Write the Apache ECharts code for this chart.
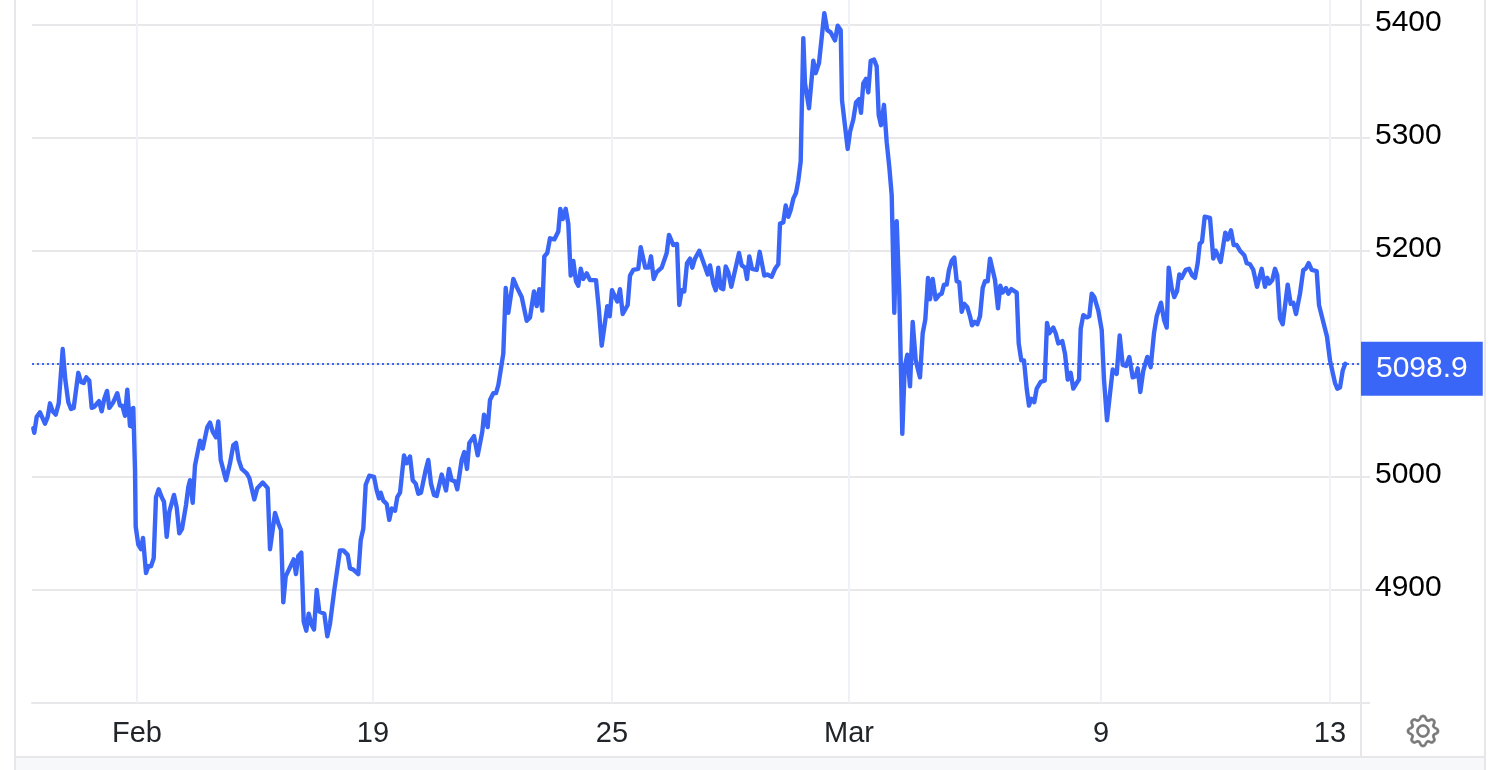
<!DOCTYPE html>
<html><head><meta charset="utf-8">
<style>html,body{margin:0;padding:0;background:#fff;overflow:hidden}#c{width:1506px;height:770px}</style>
<script src="https://cdn.jsdelivr.net/npm/echarts@6/dist/echarts.min.js"></script>
</head><body><div id="c"></div>
<script>
const timeIndex=[0.3,1.3,3.7,7,9,12,14.7,17,19.7,22.7,25.7,29.7,32.3,35.3,38,40.7,45.3,48,50.7,53.3,56.3,58.7,61.3,66,68.7,71.3,74,76.3,80.3,84.3,87,89.3,92,94.3,97,98.7,99.7,100.3,102,102.7,105.3,108,110,113,115.3,118,120.7,123,125.7,128.7,131,133.7,136.3,141,143.7,146.3,149,153,155.3,157,159.7,162,167,169.7,174.3,177,179.7,183,185.3,187.7,193,197,200.3,203,205.7,208.7,213.7,216.3,221.3,224.3,229.7,234.7,237,242,245.3,248,250.3,252.7,260.7,263,265.3,268.3,270.7,273.3,275.7,278.7,281,283.7,286.3,291.3,294.3,297,301.3,307,310.3,314.7,317,320.3,325.3,327.7,330.3,332.7,336.3,341,343.7,346,347.7,350.3,353.7,356.3,358.7,362,364.3,367,371,373.7,377,379.7,382.7,385.3,388,392.7,395.3,398,401,403.7,408.7,413,416,418.7,422,424.3,428.7,431.3,434,436.3,441,444.7,449.3,451,454.7,457,460.3,463,465.3,470.3,472.7,475.3,480.3,483.7,488.7,493.7,497,501,503.7,506.3,509.3,511.3,514.3,517,521.3,525.3,527.3,529.7,532.7,535.3,537.7,540.3,543,545.3,547.7,550.3,553.7,557,563,565.7,568.7,574.3,576.7,579,584.3,587,589.7,594.7,597,600.3,605.3,607.7,612.3,615.7,618,620.7,623.7,628.7,633.7,636,640.3,644,646.3,648.7,651.3,654,657,659.3,662,666.3,670.3,674.7,677,680.3,682.7,685.3,687.7,690.3,692.7,695.3,698.3,706,708.7,712,714,716.3,719,723.7,726.7,731.3,734.3,738.7,742,745.3,747,750.3,752.7,755.3,757.7,760.3,763,765.3,767.7,770.3,772,776,780.3,782.7,786,791.3,794.3,797.7,802,804.7,807.7,809,814.7,817,820.3,823,826,828,830.3,833,835.3,837.7,841,843.7,845.7,848,851,853.7,856.3,858.7,861.3,863.7,866.3,869.3,871.7,874.3,877,879.7,882.7,887,889.7,892.3,895,897,899.7,902.7,906.3,908.7,911,913.7,916,918.7,921.3,923.7,926.3,928.7,931.3,934.3,937,939,941.7,944.3,947,949.7,952,954.7,957,962,965,967.3,969.7,973,975.3,978.3,983.7,985.7,988.3,991,993.7,996,998.3,1001.3,1003.7,1007.7,1011.7,1014,1016.3,1020.3,1022.7,1025.3,1029.3,1032,1034.7,1037.7,1040.3,1043.7,1046,1047.7,1050.3,1053.7,1056.3,1058.7,1061.3,1065.3,1068.7,1071,1074,1076.3,1079.7,1083.7,1086.7,1089.7,1093,1096.3,1099.7,1102.7,1104.7,1107.3,1110.3,1114.3,1117.7,1121,1123.7,1125.7,1128,1131,1133.7,1135.7,1138.7,1141.3,1144,1146.3,1148.7,1152.7,1156,1159.3,1162,1164.7,1166.7,1169,1171.7,1177,1180.3,1182.7,1187.7,1192.3,1194.7,1198,1200.7,1203.7,1207,1211.3,1213.7,1217,1220.3,1224,1228.7,1232,1234.3,1236.3,1239.3,1242,1244.3,1247,1249.7,1254.7,1257.7,1260.3,1263,1267,1270.3,1272.7,1275.7,1278.7,1283.7,1286,1289.7,1294,1297,1302,1304.3,1307,1309.7,1312.3];
const prices=[5043,5039,5053,5057,5056,5047,5053,5065,5058,5055,5065,5113,5086,5066,5060,5061,5092,5084,5083,5088,5085,5061,5062,5067,5058,5069,5076,5061,5066,5074,5063,5063,5054,5077,5045,5060,5044,5061,5006,4956,4940,4936,4946,4915,4921,4921,4928,4982,4989,4982,4978,4947,4969,4984,4973,4950,4954,4975,4991,4997,4977,5010,5032,5025,5044,5048,5040,5035,5049,5015,4997,5012,5028,5030,5015,5007,5003,4999,4980,4990,4995,4990,4936,4968,4959,4953,4889,4912,4927,4914,4930,4933,4872,4864,4879,4869,4865,4900,4881,4879,4859,4870,4900,4935,4935,4931,4919,4918,4914,4944,4954,4993,5001,5000,4988,4981,4986,4979,4976,4962,4972,4970,4982,4986,5019,5012,5018,4997,4994,4985,4986,5006,5015,4994,4984,4983,5002,4988,5007,4997,4996,4989,5015,5022,5007,5030,5036,5019,5040,5055,5044,5068,5074,5074,5081,5109,5167,5145,5175,5168,5159,5138,5141,5164,5151,5166,5147,5195,5198,5211,5210,5217,5237,5228,5237,5224,5178,5191,5173,5169,5184,5175,5180,5174,5174,5150,5116,5151,5142,5165,5155,5166,5144,5152,5178,5183,5184,5203,5185,5185,5195,5175,5181,5185,5198,5214,5205,5206,5152,5165,5164,5189,5193,5185,5193,5200,5190,5179,5187,5171,5165,5185,5167,5166,5186,5181,5168,5198,5187,5185,5175,5195,5184,5183,5199,5178,5179,5177,5184,5188,5224,5225,5240,5230,5236,5246,5251,5262,5279,5388,5348,5326,5368,5357,5366,5410,5395,5393,5386,5399,5395,5333,5290,5305,5316,5331,5334,5322,5348,5352,5340,5368,5369,5363,5320,5311,5329,5296,5274,5249,5145,5226,5162,5038,5097,5108,5080,5137,5103,5088,5127,5139,5176,5157,5175,5157,5161,5162,5170,5170,5183,5191,5194,5173,5172,5146,5153,5150,5142,5134,5137,5135,5142,5167,5173,5173,5193,5174,5149,5169,5163,5167,5162,5166,5163,5118,5103,5103,5078,5063,5069,5066,5078,5084,5085,5136,5127,5132,5127,5118,5120,5109,5086,5092,5078,5083,5086,5131,5143,5141,5142,5162,5159,5147,5130,5086,5050,5068,5095,5091,5125,5099,5098,5106,5088,5089,5096,5075,5094,5106,5097,5127,5142,5143,5154,5139,5132,5185,5167,5159,5164,5179,5176,5183,5184,5178,5176,5189,5206,5208,5230,5229,5193,5200,5190,5216,5210,5218,5205,5205,5200,5196,5189,5188,5183,5168,5184,5168,5176,5171,5174,5184,5178,5140,5135,5170,5153,5154,5144,5162,5183,5184,5189,5183,5182,5152,5139,5124,5103,5083,5078,5079,5094,5100];
const xTickValues=[104,340,579,816,1068,1297];
const xTickLabels=['Feb','19','25','Mar','9','13'];
const yTickValues=[4800,4900,5000,5100,5200,5300,5400];
const lastLevel=5100;
const lastLabel='5098.9';

const BLUE='#3a66f8',GRID='#e8e8ea',VGRID='#eef2f7',EDGE='#e6e6eb';
const gearPath='M8 4.754a3.246 3.246 0 1 0 0 6.492 3.246 3.246 0 0 0 0-6.492zM5.754 8a2.246 2.246 0 1 1 4.492 0 2.246 2.246 0 0 1-4.492 0zM9.796 1.343c-.527-1.79-3.065-1.79-3.592 0l-.094.319a.873.873 0 0 1-1.255.52l-.292-.16c-1.64-.892-3.433.902-2.54 2.541l.159.292a.873.873 0 0 1-.52 1.255l-.319.094c-1.79.527-1.79 3.065 0 3.592l.319.094a.873.873 0 0 1 .52 1.255l-.16.292c-.892 1.64.901 3.434 2.541 2.54l.292-.159a.873.873 0 0 1 1.255.52l.094.319c.527 1.79 3.065 1.79 3.592 0l.094-.319a.873.873 0 0 1 1.255-.52l.292.16c1.64.893 3.434-.902 2.54-2.541l-.159-.292a.873.873 0 0 1 .52-1.255l.319-.094c1.79-.527 1.79-3.065 0-3.592l-.319-.094a.873.873 0 0 1-.52-1.255l.16-.292c.893-1.64-.902-3.433-2.541-2.54l-.292.159a.873.873 0 0 1-1.255-.52l-.094-.319zm-2.633.283c.246-.835 1.428-.835 1.674 0l.094.319a1.873 1.873 0 0 0 2.693 1.115l.291-.16c.764-.415 1.6.42 1.184 1.185l-.159.292a1.873 1.873 0 0 0 1.116 2.692l.318.094c.835.246.835 1.428 0 1.674l-.319.094a1.873 1.873 0 0 0-1.115 2.693l.16.291c.415.764-.42 1.6-1.185 1.184l-.291-.159a1.873 1.873 0 0 0-2.693 1.116l-.094.318c-.246.835-1.428.835-1.674 0l-.094-.319a1.873 1.873 0 0 0-2.692-1.115l-.292.16c-.764.415-1.6-.42-1.184-1.185l.159-.291A1.873 1.873 0 0 0 1.945 8.93l-.319-.094c-.835-.246-.835-1.428 0-1.674l.319-.094A1.873 1.873 0 0 0 3.06 4.377l-.16-.292c-.415-.764.42-1.6 1.185-1.184l.292.159a1.873 1.873 0 0 0 2.692-1.115l.094-.319z';
echarts.graphic.registerShape('gearIcon',echarts.graphic.extendPath(gearPath,{}));
const chart=echarts.init(document.getElementById('c'),null,{renderer:'canvas'});
chart.setOption({
 animation:false,backgroundColor:'#fff',
 textStyle:{fontFamily:'"Liberation Sans",Arial,sans-serif'},
 grid:{left:32,top:0,width:1329,height:703,containLabel:false},
 xAxis:{type:'value',min:-1,max:1328,
  axisLine:{show:true,onZero:false,lineStyle:{color:GRID,width:2}},
  axisTick:{show:false},splitLine:{show:false},
  axisLabel:{customValues:xTickValues,fontSize:29,color:'#212529',margin:16,hideOverlap:false,
   formatter:v=>xTickLabels[xTickValues.indexOf(v)]||''}},
 yAxis:{type:'value',position:'right',min:4800,max:5421.7,interval:100,
  axisLine:{show:true,onZero:false,lineStyle:{color:EDGE,width:2}},
  axisTick:{show:true,length:9,customValues:yTickValues,lineStyle:{color:GRID,width:2}},
  splitLine:{show:true,showMinLine:false,lineStyle:{color:GRID,width:2}},
  axisLabel:{customValues:yTickValues.slice(1),fontSize:30,color:'#000',margin:14,
   formatter:v=>'{t|'+v+'}',rich:{t:{fontSize:30,color:'#000',padding:[0,0,4,0]}}}},
 series:[
  {type:'line',data:[],z:1,silent:true,
   markLine:{silent:true,symbol:'none',animation:false,z:1,label:{show:false},
    lineStyle:{color:VGRID,width:2,type:'solid'},
    data:xTickValues.map(v=>({xAxis:v}))}},
  {type:'line',z:5,showSymbol:false,symbol:'none',smooth:false,silent:true,clip:false,
   data:timeIndex.map((t,i)=>[t,prices[i]]),
   lineStyle:{color:BLUE,width:4.4,join:'round',cap:'round'},
   markLine:{silent:true,symbol:'none',animation:false,z:4,
    lineStyle:{color:BLUE,width:2,type:[2,3]},
    label:{show:true,position:'end',distance:0,offset:[0,5],formatter:()=>lastLabel,
     color:'#fff',fontSize:30,backgroundColor:BLUE,padding:[12,15,12,15],align:'left',verticalAlign:'middle'},
    data:[{yAxis:lastLevel}]}}
 ],
 graphic:[
  {type:'rect',silent:true,z:0,shape:{x:16,y:757,width:1468,height:13},style:{fill:'#f6f8fa'}},
  {type:'rect',silent:true,z:10,shape:{x:15,y:756,width:1470,height:2},style:{fill:EDGE}},
  {type:'rect',silent:true,z:10,shape:{x:14,y:0,width:2,height:770},style:{fill:EDGE}},
  {type:'rect',silent:true,z:10,shape:{x:1484,y:0,width:2,height:770},style:{fill:EDGE}},
  {type:'rect',silent:true,z:10,shape:{x:1360,y:703,width:2,height:54},style:{fill:EDGE}},
  {type:'gearIcon',x:1407,y:715,scaleX:2,scaleY:2,silent:true,z:10,style:{fill:'#777',stroke:'#777',lineWidth:0.35}}
 ]
});
</script></body></html>
